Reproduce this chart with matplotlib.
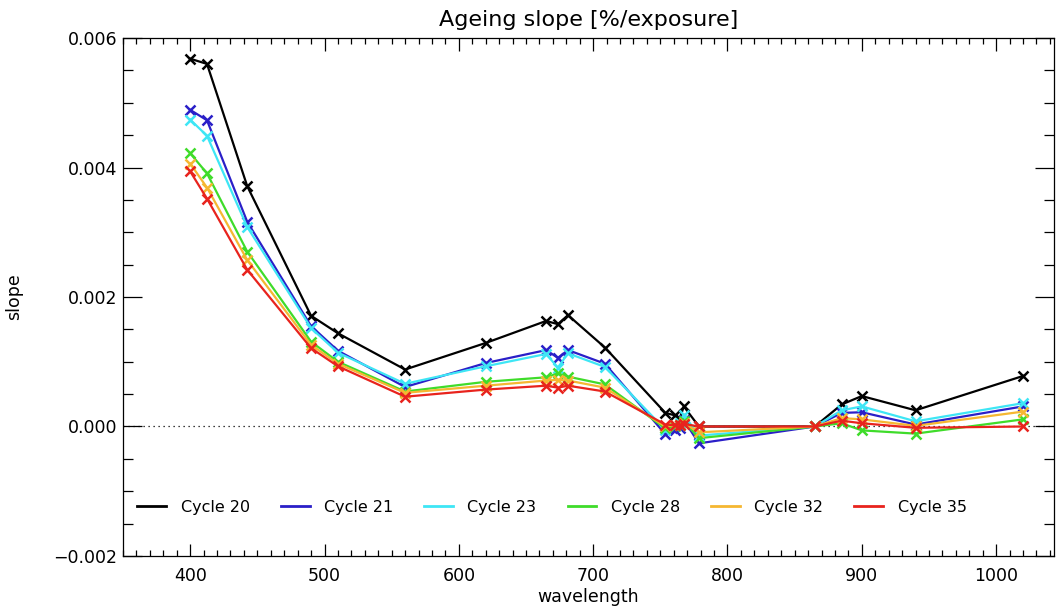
import matplotlib
matplotlib.use('Agg')
import matplotlib.pyplot as plt
from matplotlib.ticker import MultipleLocator

# OLCI band centres (nm)
wavelength = [400, 412.5, 442.5, 490, 510, 560, 620, 665, 673.75, 681.25, 708.75,
              753.75, 761.25, 764.375, 767.5, 778.75, 865, 885, 900, 940, 1020]

cycle20 = [0.00568, 0.00560, 0.00371, 0.00171, 0.00144, 0.00088, 0.00129, 0.00163, 0.00158, 0.00172, 0.00122,
           0.00021, 0.00017, 0.00012, 0.00031, 0.00000, 0.00000, 0.00034, 0.00047, 0.00025, 0.00078]
cycle21 = [0.00489, 0.00473, 0.00316, 0.00155, 0.00117, 0.00061, 0.00098, 0.00118, 0.00106, 0.00118, 0.00097,
           -0.00012, -0.00005, -0.00003, 0.00010, -0.00026, 0.00000, 0.00021, 0.00022, 0.00003, 0.00031]
cycle23 = [0.00474, 0.00449, 0.00308, 0.00152, 0.00114, 0.00066, 0.00093, 0.00112, 0.00091, 0.00113, 0.00092,
           -0.00005, 0.00000, 0.00005, 0.00018, -0.00014, 0.00000, 0.00025, 0.00031, 0.00008, 0.00036]
cycle28 = [0.00422, 0.00391, 0.00270, 0.00131, 0.00100, 0.00054, 0.00069, 0.00076, 0.00082, 0.00077, 0.00065,
           -0.00003, 0.00000, 0.00002, 0.00008, -0.00018, 0.00000, 0.00005, -0.00006, -0.00011, 0.00011]
cycle32 = [0.00406, 0.00369, 0.00257, 0.00126, 0.00097, 0.00052, 0.00063, 0.00071, 0.00072, 0.00071, 0.00060,
           0.00000, 0.00002, 0.00003, 0.00005, -0.00009, 0.00000, 0.00013, 0.00011, 0.00001, 0.00023]
cycle35 = [0.00394, 0.00352, 0.00242, 0.00121, 0.00093, 0.00046, 0.00057, 0.00063, 0.00060, 0.00063, 0.00054,
           0.00003, 0.00002, 0.00003, 0.00004, 0.00000, 0.00000, 0.00009, 0.00005, -0.00002, 0.00000]

series = [cycle20, cycle21, cycle23, cycle28, cycle32, cycle35]
labels = ['Cycle 20', 'Cycle 21', 'Cycle 23', 'Cycle 28', 'Cycle 32', 'Cycle 35']
colors = ['black', '#2a1fc8', '#3ee6f5', '#3fdc2a', '#f5b731', '#e8231d']

fig = plt.figure(figsize=(10.56, 6.13), dpi=100)
ax = fig.add_axes([0.1165, 0.093, 0.8815, 0.845])

ax.axhline(0, color='black', linestyle=(0, (1, 3)), linewidth=0.9)

for vals, lab, col in zip(series, labels, colors):
    ax.plot(wavelength, vals, color=col, linewidth=1.6, marker='x',
            markersize=7, markeredgewidth=1.8, label=lab)

ax.set_xlim(350, 1043)
ax.set_ylim(-0.002, 0.006)
ax.xaxis.set_major_locator(MultipleLocator(100))
ax.xaxis.set_minor_locator(MultipleLocator(10))
ax.yaxis.set_major_locator(MultipleLocator(0.002))
ax.yaxis.set_minor_locator(MultipleLocator(0.0005))
ax.yaxis.set_major_formatter(plt.FuncFormatter(
    lambda v, p: ('%.3f' % v).replace('-', '\u2212') if abs(v) > 1e-12 else '0.000'))

ax.tick_params(axis='x', which='major', direction='in', length=9, width=0.9,
               top=True, bottom=True, labelsize=12.5, pad=8)
ax.tick_params(axis='x', which='minor', direction='in', length=4.5, width=0.9,
               top=True, bottom=True)
ax.tick_params(axis='y', which='major', direction='in', length=14, width=0.9,
               left=True, right=True, labelsize=12.5, pad=4)
ax.tick_params(axis='y', which='minor', direction='in', length=7, width=0.9,
               left=True, right=True)
for s in ax.spines.values():
    s.set_linewidth(0.9)

ax.set_title('Ageing slope [%/exposure]', fontsize=16, pad=9)
ax.set_xlabel('wavelength', fontsize=12.5, labelpad=2)
ax.set_ylabel('slope', fontsize=12.5, labelpad=22)

ax.legend(loc='lower left', bbox_to_anchor=(0.0, 0.052), ncol=6, frameon=False,
          fontsize=11.5, handlelength=1.8, columnspacing=1.95, handletextpad=0.9)
leg = ax.get_legend()
for h in leg.legend_handles:
    h.set_marker('')
    h.set_linewidth(2)

fig.savefig('out.png', dpi=100)
